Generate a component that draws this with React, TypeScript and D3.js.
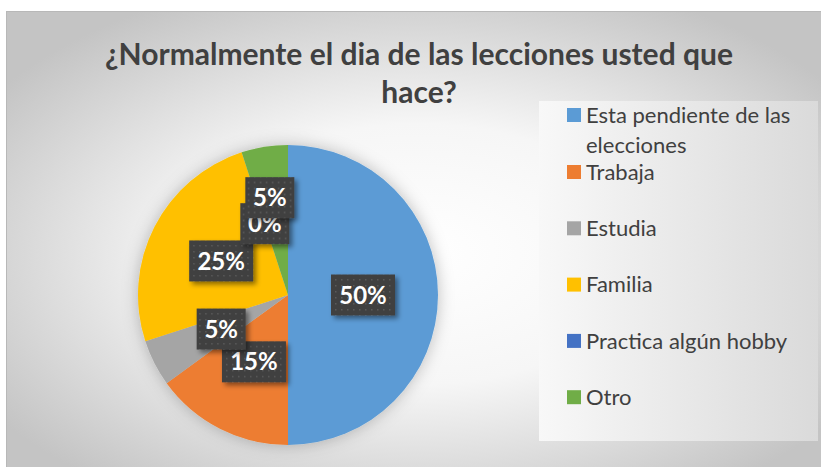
import React, { useEffect, useRef } from 'react';
import * as d3 from 'd3';

const categories = ['Esta pendiente de las elecciones', 'Trabaja', 'Estudia', 'Familia', 'Practica algún hobby', 'Otro'];
const values = [50, 15, 5, 25, 0, 5];
const colors = ['#5B9BD5', '#ED7D31', '#A5A5A5', '#FFC000', '#4472C4', '#70AD47'];
const legendLines = [['Esta pendiente de las', 'elecciones'], ['Trabaja'], ['Estudia'], ['Familia'], ['Practica algún hobby'], ['Otro']];
const titleLines = ['¿Normalmente el dia de las lecciones usted que', 'hace?'];

export default function App() {
  const svgRef = useRef<SVGSVGElement>(null);

  useEffect(() => {
    const width = 821;
    const height = 467;
    const svg = d3.select(svgRef.current);
    svg.selectAll('*').remove();
    svg.attr('width', width).attr('height', height);

    const defs = svg.append('defs');
    const bg = defs.append('radialGradient').attr('id', 'bg')
      .attr('cx', '50%').attr('cy', '52%').attr('r', '62%');
    bg.append('stop').attr('offset', '0%').attr('stop-color', '#ffffff');
    bg.append('stop').attr('offset', '45%').attr('stop-color', '#f6f6f6');
    bg.append('stop').attr('offset', '100%').attr('stop-color', '#c4c4c4');

    const lg = defs.append('linearGradient').attr('id', 'lg')
      .attr('x1', '0%').attr('x2', '100%').attr('y1', '0%').attr('y2', '0%');
    lg.append('stop').attr('offset', '0%').attr('stop-color', '#f8f8f8');
    lg.append('stop').attr('offset', '100%').attr('stop-color', '#dadada');

    const pieShadow = defs.append('filter').attr('id', 'pieShadow')
      .attr('x', '-20%').attr('y', '-20%').attr('width', '140%').attr('height', '140%');
    pieShadow.append('feDropShadow').attr('dx', 0).attr('dy', 0).attr('stdDeviation', 8)
      .attr('flood-color', '#000').attr('flood-opacity', 0.25);

    const boxShadow = defs.append('filter').attr('id', 'boxShadow')
      .attr('x', '-20%').attr('y', '-20%').attr('width', '150%').attr('height', '150%');
    boxShadow.append('feDropShadow').attr('dx', 3).attr('dy', 3).attr('stdDeviation', 2.5)
      .attr('flood-color', '#000').attr('flood-opacity', 0.45);

    const pat = defs.append('pattern').attr('id', 'dots')
      .attr('width', 6).attr('height', 6).attr('patternUnits', 'userSpaceOnUse');
    pat.append('rect').attr('width', 6).attr('height', 6).attr('fill', '#404040');
    pat.append('rect').attr('x', 2).attr('y', 2).attr('width', 1.5).attr('height', 1.5).attr('fill', '#5a5a5a');

    // chart area
    svg.append('rect').attr('x', 6.5).attr('y', 11.5).attr('width', width).attr('height', height)
      .attr('fill', 'url(#bg)').attr('stroke', '#b8b8b8').attr('stroke-width', 1);

    // title
    const title = svg.append('text').attr('text-anchor', 'middle')
      .attr('font-family', 'Lato, "Open Sans", sans-serif').attr('font-weight', 'bold')
      .attr('font-size', 30).attr('fill', '#404040');
    titleLines.forEach((t, i) => {
      title.append('tspan').attr('x', 419).attr('y', 65 + i * 38).text(t);
    });

    // pie
    const cx = 288;
    const cy = 295;
    const r = 150;
    const data = categories.map((c, i) => ({ name: c, value: values[i], color: colors[i] }));
    const pie = d3.pie<any>().value(d => d.value).sort(null);
    const arcs = pie(data);
    const arc = d3.arc<any>().innerRadius(0).outerRadius(r);
    const labelArc = d3.arc<any>().innerRadius(r / 2).outerRadius(r / 2);

    const pg = svg.append('g').attr('transform', `translate(${cx},${cy})`);
    pg.append('g').attr('filter', 'url(#pieShadow)')
      .selectAll('path').data(arcs).enter().append('path')
      .attr('d', arc as any).attr('fill', d => d.data.color);

    // labels with simple collision nudge
    const placed: { x: number; y: number; w: number; h: number }[] = [];
    arcs.forEach(a => {
      const [lx, ly] = labelArc.centroid(a);
      const txt = `${a.data.value}%`;
      const w = txt.length === 3 ? 64 : 49;
      const h = 41;
      let x = lx;
      let y = ly;
      const prev = placed[placed.length - 1];
      if (prev && Math.abs(prev.x - x) < (prev.w + w) / 2 && Math.abs(prev.y - y) < 5) {
        y = prev.y - 26;
        x = prev.x + 5;
      }
      placed.push({ x, y, w, h });
      const g = pg.append('g').attr('transform', `translate(${x},${y})`);
      g.append('rect').attr('x', -w / 2).attr('y', -h / 2).attr('width', w).attr('height', h)
        .attr('fill', 'url(#dots)').attr('filter', 'url(#boxShadow)');
      g.append('text').attr('text-anchor', 'middle').attr('dy', '0.36em')
        .attr('font-family', 'Lato, "Open Sans", sans-serif').attr('font-weight', 'bold')
        .attr('font-size', 24).attr('fill', '#ffffff').text(txt);
    });

    // legend
    svg.append('rect').attr('x', 539).attr('y', 101).attr('width', 279).attr('height', 340)
      .attr('fill', 'url(#lg)');
    const leg = svg.append('g').attr('font-family', 'Lato, "Open Sans", sans-serif')
      .attr('font-size', 22).attr('fill', '#404040');
    legendLines.forEach((lines, i) => {
      const row = leg.append('g').attr('transform', `translate(0,${i === 0 ? 115 : 172 + (i - 1) * 56.3})`);
      row.append('rect').attr('x', 567).attr('y', -7).attr('width', 14).attr('height', 14).attr('fill', colors[i]);
      lines.forEach((l, j) => {
        row.append('text').attr('x', 586).attr('y', j * 30).attr('dy', '0.35em').text(l);
      });
    });
  }, []);

  return (
    <div style={{ position: 'fixed', left: 0, top: 0, width: 821, height: 467, background: '#fff', overflow: 'hidden' }}>
      <svg ref={svgRef} style={{ display: 'block' }} />
    </div>
  );
}
